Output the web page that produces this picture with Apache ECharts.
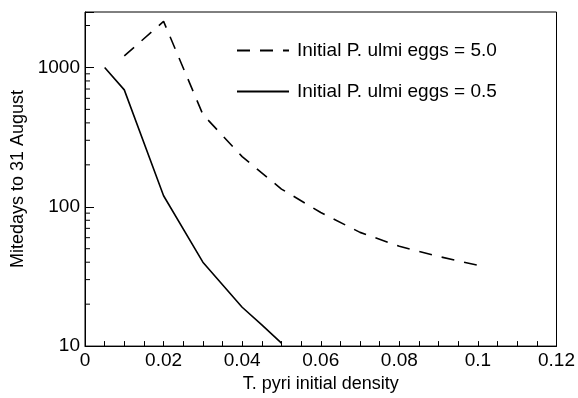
<!DOCTYPE html>
<html>
<head>
<meta charset="utf-8">
<script src="https://cdn.jsdelivr.net/npm/echarts@6/dist/echarts.min.js"></script>
<style>
  html, body { margin: 0; padding: 0; background: #fff; }
  #chart { width: 578px; height: 398px; }
</style>
</head>
<body>
<div id="chart"></div>
<script>
// T. pyri initial density (x) vs mitedays to 31 August (y, log)
var eggs50X = [0.01, 0.02, 0.03, 0.04, 0.05, 0.06, 0.07, 0.08, 0.09, 0.1];
var eggs50Y = [1210, 2140, 460, 229, 134, 91, 65.5, 52, 44, 38];
var eggs05X = [0.005, 0.01, 0.02, 0.03, 0.04, 0.045, 0.05];
var eggs05Y = [1000, 690, 120, 40, 19, 14.2, 10.5];
var yMinorTicks = [20, 30, 40, 50, 60, 70, 80, 90, 200, 300, 400, 500, 600, 700, 800, 900, 2000];
var yLabels = [10, 100, 1000];
var seriesNames = ['Initial P. ulmi eggs = 5.0', 'Initial P. ulmi eggs = 0.5'];

function pairs(xs, ys) {
    var out = [];
    for (var i = 0; i < xs.length; i++) out.push([xs[i], ys[i]]);
    return out;
}

var font = 'Liberation Sans, Arial, Helvetica, sans-serif';
var chart = echarts.init(document.getElementById('chart'));

var option = {
    animation: false,
    backgroundColor: '#fff',
    grid: {
        left: 85, right: 19, top: 12, bottom: 49,
        show: true, borderColor: '#000', borderWidth: 1
    },
    legend: {
        orient: 'vertical',
        left: 236,
        top: 41,
        padding: 0,
        itemWidth: 52,
        itemHeight: 18,
        itemGap: 22,
        itemStyle: { opacity: 0 },
        data: seriesNames,
        textStyle: { fontFamily: font, fontSize: 19, color: '#000', padding: [0, 0, 0, 3] }
    },
    xAxis: {
        type: 'value',
        min: 0, max: 0.12, interval: 0.01,
        name: 'T. pyri initial density',
        nameLocation: 'middle',
        nameGap: 25,
        nameTextStyle: { fontFamily: font, fontSize: 18, color: '#000' },
        axisLine: { show: true, lineStyle: { color: '#000', width: 1 } },
        axisTick: { show: true, inside: true, length: 5, lineStyle: { color: '#000', width: 1 } },
        minorTick: { show: true, splitNumber: 2, length: 5, lineStyle: { color: '#000', width: 1 } },
        splitLine: { show: false },
        axisLabel: {
            fontFamily: font, fontSize: 19, color: '#000', margin: 5,
            formatter: function (v) {
                var k = Math.round(v * 100);
                if (k % 2 !== 0) return '';
                return k === 0 ? '0' : String(+v.toFixed(2));
            }
        }
    },
    yAxis: {
        type: 'log',
        logBase: 10,
        min: 10, max: 2500,
        name: 'Mitedays to 31 August',
        nameLocation: 'middle',
        nameGap: 56,
        nameTextStyle: { fontFamily: font, fontSize: 18, color: '#000' },
        axisLine: { show: true, lineStyle: { color: '#000', width: 1 } },
        axisTick: { show: true, inside: true, length: 9, lineStyle: { color: '#000', width: 1 } },
        splitLine: { show: false },
        axisLabel: {
            fontFamily: font, fontSize: 19, color: '#000', margin: 5,
            formatter: function (v) {
                return yLabels.indexOf(Math.round(v)) >= 0 ? String(Math.round(v)) : '';
            }
        }
    },
    series: [{
        name: seriesNames[0],
        type: 'line',
        symbol: 'none',
        data: pairs(eggs50X, eggs50Y),
        lineStyle: { color: '#000', width: 1.6, type: [13, 10] },
        itemStyle: { color: '#000' }
    }, {
        name: seriesNames[1],
        type: 'line',
        symbol: 'none',
        data: pairs(eggs05X, eggs05Y),
        lineStyle: { color: '#000', width: 1.6, type: 'solid' },
        itemStyle: { color: '#000' }
    }, {
        // minor log ticks on the y axis
        type: 'custom',
        coordinateSystem: 'cartesian2d',
        silent: true,
        clip: false,
        z: 10,
        encode: { x: 0, y: 1 },
        data: yMinorTicks.map(function (v) { return [0, v]; }),
        renderItem: function (params, api) {
            var p = api.coord([api.value(0), api.value(1)]);
            return {
                type: 'line',
                shape: { x1: p[0], y1: p[1], x2: p[0] + 5, y2: p[1] },
                style: { stroke: '#000', lineWidth: 1 }
            };
        }
    }]
};

chart.setOption(option);
</script>
</body>
</html>
